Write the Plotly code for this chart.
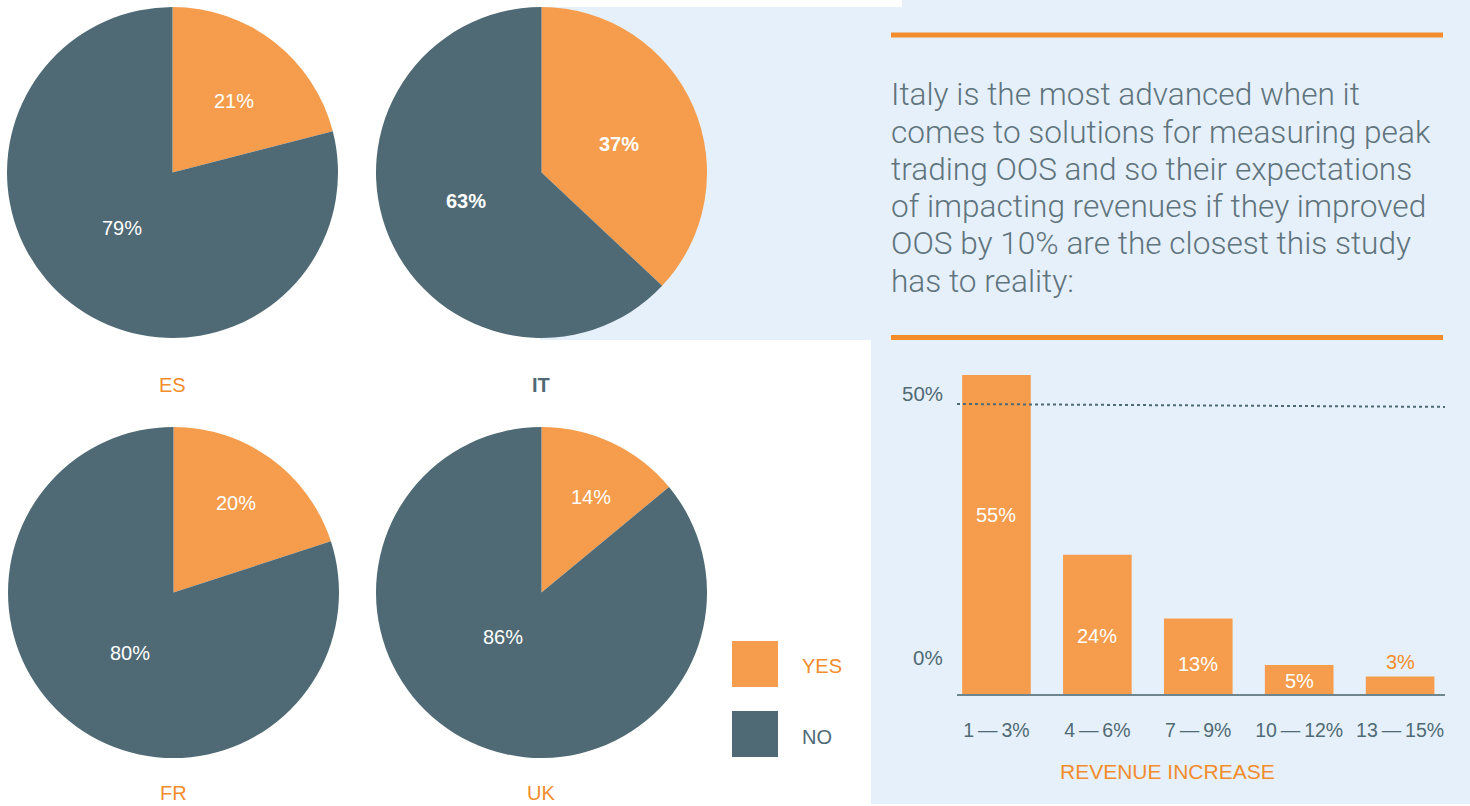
import plotly.graph_objects as go

W, H = 1470, 806

# ---- data ----
countries = ["ES", "IT", "FR", "UK"]
yes_vals = [21, 37, 20, 14]
no_vals = [79, 63, 80, 86]
pie_labels = ["YES", "NO"]

bar_cats = ["1\u2009—\u20093%", "4\u2009—\u20096%", "7\u2009—\u20099%",
            "10\u2009—\u200912%", "13\u2009—\u200915%"]
bar_vals = [55, 24, 13, 5, 3]

paragraph = ["Italy is the most advanced when it",
             "comes to solutions for measuring peak",
             "trading OOS and so their expectations",
             "of impacting revenues if they improved",
             "OOS by 10% are the closest this study",
             "has to reality:"]

# ---- styles ----
ORANGE = "#F28C2C"
PIE_OR = "#F59D4D"
DARK = "#4F6A74"
PANEL = "#E6F0FA"
FONT = "Liberation Sans"


def px(x):
    return x / W


def py(y):
    return 1 - y / H


# pie boxes in pixels (x0, y0, x1, y1)
pie_boxes = [(7, 7, 338, 338), (376, 7, 707, 338), (8, 427, 339, 758), (376, 427, 707, 758)]
# pixel positions of the YES / NO value labels inside each pie
pie_text_pos = [((234, 101), (122, 228)), ((619, 144), (466, 201)),
                ((236, 503), (130, 653)), ((591, 497), (503, 637))]
label_pos = [(172, 385), (541, 385), (173, 793), (541, 793)]
label_style = [(ORANGE, 400), (DARK, 700), (ORANGE, 400), (ORANGE, 400)]
pie_bold = [False, True, False, False]
para_x = 889
para_y = [95, 132, 169, 206, 243, 281]
# pixel heights of bar value labels, and their colours
bar_label_px = [515, 636, 664, 681, 662]
bar_label_col = ["white", "white", "white", "white", ORANGE]

# bar axes: baseline at 694px, 5.8 px per %
PX_PER_UNIT = 5.8
y_top_val = 60
y_bottom_px = 694
y_top_px = y_bottom_px - y_top_val * PX_PER_UNIT

fig = go.Figure()

annotations = []
for i, c in enumerate(countries):
    x0, y0, x1, y1 = pie_boxes[i]
    vals = [yes_vals[i], no_vals[i]]
    fig.add_trace(go.Pie(
        labels=pie_labels, values=vals,
        sort=False, direction="clockwise", rotation=0,
        marker=dict(colors=[PIE_OR, DARK], line=dict(width=0)),
        textinfo="none",
        domain=dict(x=[px(x0), px(x1)], y=[py(y1), py(y0)]),
        showlegend=False, hoverinfo="label+value", name=c,
    ))
    for (tx, ty), v in zip(pie_text_pos[i], vals):
        annotations.append(dict(text=f"{v}%", x=px(tx), y=py(ty), xref="paper", yref="paper",
                                xanchor="center", yanchor="middle", showarrow=False,
                                font=dict(family=FONT, size=20, color="white",
                                          weight=700 if pie_bold[i] else 400)))

fig.add_trace(go.Bar(
    x=bar_cats, y=bar_vals,
    marker=dict(color=PIE_OR, line=dict(width=0)),
    textposition="none",
    cliponaxis=False, showlegend=False, width=0.68,
))
for cat, v, lp, col in zip(bar_cats, bar_vals, bar_label_px, bar_label_col):
    annotations.append(dict(text=f"{v}%", x=cat, y=(y_bottom_px - lp) / PX_PER_UNIT,
                            xref="x", yref="y", xanchor="center", yanchor="middle",
                            showarrow=False, font=dict(family=FONT, size=20, color=col)))

shapes = []
# light blue panel (L-shape)
shapes.append(dict(type="path", xref="paper", yref="paper", layer="below",
                   path=f"M {px(540)} {py(7)} L {px(902)} {py(7)} L {px(902)} {py(0)} L 1 {py(0)} "
                        f"L 1 {py(804)} L {px(871)} {py(804)} L {px(871)} {py(340)} L {px(540)} {py(340)} Z",
                   fillcolor=PANEL, line=dict(width=0)))
# orange rules
for yy in (35, 337.5):
    shapes.append(dict(type="line", xref="paper", yref="paper", x0=px(891), x1=px(1443),
                       y0=py(yy), y1=py(yy), line=dict(color=ORANGE, width=5)))
# dotted 50% line
shapes.append(dict(type="line", xref="x domain", yref="y", x0=0, x1=1, y0=50, y1=49.5,
                   line=dict(color=DARK, width=2, dash="dot")))
# legend swatches
shapes.append(dict(type="rect", xref="paper", yref="paper", x0=px(732), x1=px(778),
                   y0=py(687), y1=py(641), fillcolor=PIE_OR, line=dict(width=0)))
shapes.append(dict(type="rect", xref="paper", yref="paper", x0=px(732), x1=px(778),
                   y0=py(757), y1=py(711), fillcolor=DARK, line=dict(width=0)))

for i, c in enumerate(countries):
    lx, ly = label_pos[i]
    col, wt = label_style[i]
    annotations.append(dict(text=c, x=px(lx), y=py(ly), xref="paper", yref="paper",
                            xanchor="center", yanchor="middle", showarrow=False,
                            font=dict(family=FONT, size=20, color=col, weight=wt)))
annotations.append(dict(text="YES", x=px(800), y=py(666), xref="paper", yref="paper",
                        xanchor="left", yanchor="middle", showarrow=False,
                        font=dict(family=FONT, size=20, color=ORANGE)))
annotations.append(dict(text="NO", x=px(800), y=py(737), xref="paper", yref="paper",
                        xanchor="left", yanchor="middle", showarrow=False,
                        font=dict(family=FONT, size=20, color=DARK)))
for line, yy in zip(paragraph, para_y):
    annotations.append(dict(text=line, x=px(para_x), y=py(yy), xref="paper", yref="paper",
                            xanchor="left", yanchor="middle", align="left", showarrow=False,
                            font=dict(family="Roboto", size=31.6, color="#5F747D", weight=300)))
annotations.append(dict(text="50%", x=px(945), y=py(393), xref="paper", yref="paper",
                        xanchor="right", yanchor="middle", showarrow=False,
                        font=dict(family=FONT, size=20.5, color=DARK)))
annotations.append(dict(text="0%", x=px(945), y=py(657), xref="paper", yref="paper",
                        xanchor="right", yanchor="middle", showarrow=False,
                        font=dict(family=FONT, size=20.5, color=DARK)))
annotations.append(dict(text="REVENUE INCREASE", x=px(1167), y=py(771), xref="paper", yref="paper",
                        xanchor="center", yanchor="middle", showarrow=False,
                        font=dict(family=FONT, size=21, color=ORANGE)))

fig.update_layout(
    width=W, height=H, margin=dict(l=0, r=0, t=0, b=0),
    paper_bgcolor="white", plot_bgcolor="rgba(0,0,0,0)",
    shapes=shapes, annotations=annotations,
    xaxis=dict(domain=[px(957), px(1445)], range=[-0.391, 4.445], showgrid=False,
               zeroline=False, showline=True, linecolor="#6F858E", linewidth=2,
               ticks="", ticklabelstandoff=18,
               tickfont=dict(family=FONT, size=19.5, color=DARK), fixedrange=True),
    yaxis=dict(domain=[py(y_bottom_px), py(y_top_px)], range=[0, y_top_val], visible=False,
               showgrid=False, zeroline=False, fixedrange=True),
    bargap=0.32,
)

fig.write_html("out.html")
